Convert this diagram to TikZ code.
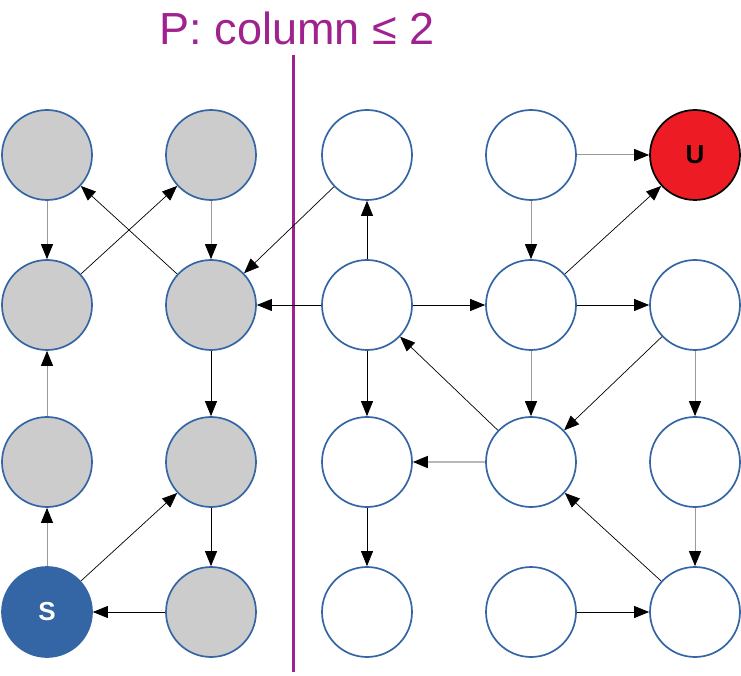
\documentclass[tikz,border=0pt]{standalone}
\usepackage{fontspec}
\setmainfont{Liberation Sans}
\usetikzlibrary{arrows.meta}
\definecolor{nodeblue}{HTML}{3465A4}
\definecolor{nodegray}{HTML}{CCCCCC}
\definecolor{ured}{HTML}{ED1C24}
\definecolor{ppurple}{HTML}{A0228F}
\definecolor{lgray}{HTML}{9A9A9A}
\tikzset{
  vtx/.style={circle, draw=nodeblue, line width=1.7pt, minimum size=90pt, inner sep=0pt, fill=white},
  inP/.style={vtx, fill=nodegray},
  src/.style={vtx, fill=nodeblue, text=white, font=\fontsize{26}{30}\selectfont\bfseries},
  tgt/.style={vtx, draw=black, fill=ured, text=black, font=\fontsize{26}{30}\selectfont\bfseries},
  edge/.style={-{Triangle[length=15pt,width=12pt,color=black]}, line width=0.7pt, draw=black},
  gedge/.style={edge, draw=lgray, line width=1pt},
}
\begin{document}
\begin{tikzpicture}[x=1pt,y=1pt]
\useasboundingbox (0,0) rectangle (741,675);
% columns x: 47 211 367 531 695 ; rows y(px): 155 305 462 612
\node[inP] (a0) at (47,520) {};
\node[inP] (b0) at (211,520) {};
\node[vtx] (c0) at (367,520) {};
\node[vtx] (d0) at (531,520) {};
\node[tgt] (e0) at (695,520) {U};
\node[inP] (a1) at (47,370) {};
\node[inP] (b1) at (211,370) {};
\node[vtx] (c1) at (367,370) {};
\node[vtx] (d1) at (531,370) {};
\node[vtx] (e1) at (695,370) {};
\node[inP] (a2) at (47,213) {};
\node[inP] (b2) at (211,213) {};
\node[vtx] (c2) at (367,213) {};
\node[vtx] (d2) at (531,213) {};
\node[vtx] (e2) at (695,213) {};
\node[src] (a3) at (47,63) {S};
\node[inP] (b3) at (211,63) {};
\node[vtx] (c3) at (367,63) {};
\node[vtx] (d3) at (531,63) {};
\node[vtx] (e3) at (695,63) {};
% divider
\coordinate (ltop) at (293.5,620);
\coordinate (lbot) at (293.5,3);
\draw[ppurple, line width=3pt] (ltop) -- (lbot);
\node[text=ppurple, font=\fontsize{45}{54}\selectfont, anchor=base] (title) at (297,630) {P: column ≤ 2};
% edges
\draw[gedge] (a0) -- (a1);
\draw[gedge] (b0) -- (b1);
\draw[edge] (b1) -- (a0);
\draw[edge] (a1) -- (b0);
\draw[edge] (c0) -- (b1);
\draw[edge] (c1) -- (c0);
\draw[edge] (c1) -- (b1);
\draw[edge] (c1) -- (d1);
\draw[gedge] (d0) -- (e0);
\draw[gedge] (d0) -- (d1);
\draw[edge] (d1) -- (e0);
\draw[edge] (d1) -- (e1);
\draw[gedge] (d1) -- (d2);
\draw[edge] (e1) -- (d2);
\draw[gedge] (e1) -- (e2);
\draw[edge] (d2) -- (c1);
\draw[gedge, draw=nodegray!90!black, line width=1.5pt] (d2) -- (c2);
\draw[edge] (c1) -- (c2);
\draw[edge] (c2) -- (c3);
\draw[gedge] (e2) -- (e3);
\draw[edge] (e3) -- (d2);
\draw[edge] (d3) -- (e3);
\draw[edge] (b1) -- (b2);
\draw[gedge] (a2) -- (a1);
\draw[gedge] (a3) -- (a2);
\draw[edge] (a3) -- (b2);
\draw[edge] (b2) -- (b3);
\draw[edge] (b3) -- (a3);
\end{tikzpicture}
\end{document}
